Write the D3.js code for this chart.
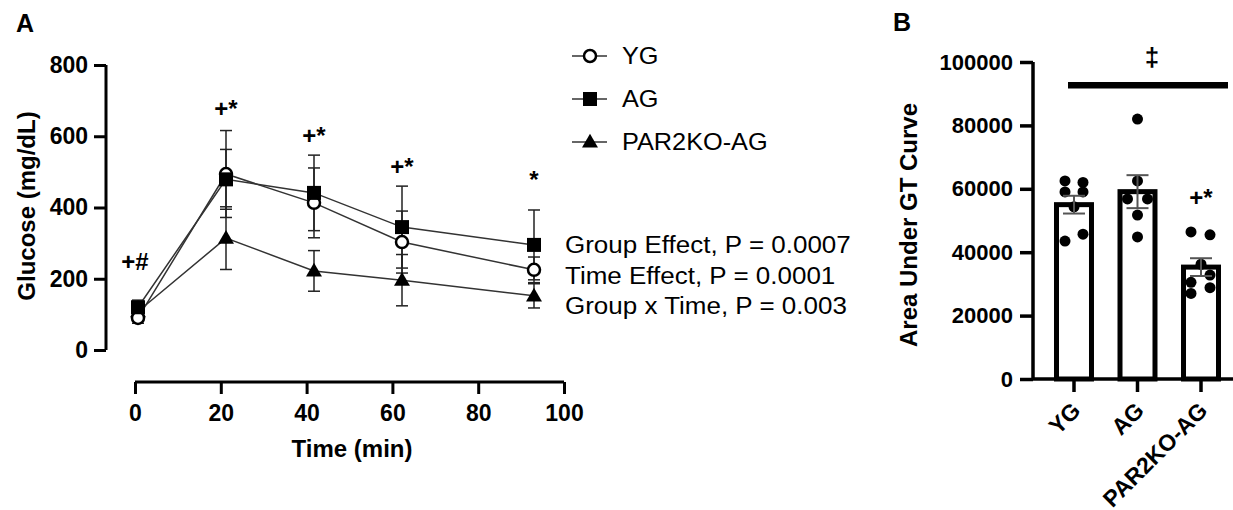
<!DOCTYPE html>
<html>
<head>
<meta charset="utf-8">
<script src="https://cdnjs.cloudflare.com/ajax/libs/d3/7.8.5/d3.min.js"></script>
<style>
  body { margin: 0; background: #fff; }
  svg { display: block; font-family: "Liberation Sans", Arial, sans-serif; }
  .axis path, .axis line { stroke: #000; }
  .axis text { font-weight: bold; fill: #000; }
</style>
</head>
<body>
<div id="viz"></div>
<script>
// ---- panel A: glucose tolerance curve ----
var times = [0, 20, 40, 60, 90];
var groups = ["YG", "AG", "PAR2KO-AG"];
var ygMean = [90, 494, 413, 303, 225];
var ygSD = [15, 122, 98, 87, 36];
var agMean = [120, 479, 441, 345, 295];
var agSD = [20, 84, 106, 115, 98];
var koMean = [108, 314, 222, 196, 152];
var koSD = [18, 88, 57, 72, 34];
var sigLabels = ["+#", "+*", "+*", "+*", "*"];
var sigHeight = [247, 679, 603, 514, 478];
var glucoseTicks = [0, 200, 400, 600, 800];
var timeTicks = [0, 20, 40, 60, 80, 100];
var statsText = ["Group Effect, P = 0.0007",
                 "Time Effect, P = 0.0001",
                 "Group x Time, P = 0.003"];

// ---- panel B: area under curve ----
var aucMean = [55000, 59100, 35300];
var aucSEM = [2800, 5200, 2800];
var ygDots = [62500, 62000, 59000, 59000, 54300, 45700, 43500];
var agDots = [82000, 62500, 56800, 56800, 51700, 44800];
var koDots = [46400, 45500, 36200, 32800, 30500, 28800, 27000];
var aucTicks = [0, 20000, 40000, 60000, 80000, 100000];

var width = 1233, height = 510;

var svg = d3.select("div#viz")
            .append("svg")
            .attr("width", width)
            .attr("height", height);

// panel letters
svg.append("text").attr("x", 16).attr("y", 32)
   .style("font-size", "25px").style("font-weight", "bold").text("A");
svg.append("text").attr("x", 893).attr("y", 31)
   .style("font-size", "25px").style("font-weight", "bold").text("B");

// scales for A
var yA = d3.scaleLinear().domain([0, 800]).range([350, 65]);
var xAxisA = d3.scaleLinear().domain([0, 100]).range([135, 564]);
// prism offsets the x axis, the data area is a little wider than the drawn axis
var xA = d3.scaleLinear().domain([0, 100]).range([138, 578]);

var gA = svg.append("g");

gA.append("g")
  .attr("class", "axis")
  .attr("transform", "translate(106,0)")
  .call(d3.axisLeft(yA).tickValues(glucoseTicks).tickSize(12).tickPadding(6))
  .call(function(g) {
      g.select(".domain").attr("stroke-width", 3).attr("d", "M0," + yA(0) + "V" + yA(800));
      g.selectAll(".tick line").attr("stroke-width", 3);
      g.selectAll(".tick text").style("font-size", "23px");
  });

gA.append("g")
  .attr("class", "axis")
  .attr("transform", "translate(0,382)")
  .call(d3.axisBottom(xAxisA).tickValues(timeTicks).tickSize(12).tickPadding(11))
  .call(function(g) {
      g.select(".domain").attr("stroke-width", 3).attr("d", "M" + xAxisA(0) + ",0H" + xAxisA(100));
      g.selectAll(".tick line").attr("stroke-width", 3);
      g.selectAll(".tick text").style("font-size", "23px");
  });

gA.append("text")
  .attr("x", 352).attr("y", 457)
  .style("text-anchor", "middle").style("font-size", "24px").style("font-weight", "bold")
  .text("Time (min)");

gA.append("text")
  .attr("transform", "translate(35,206) rotate(-90)")
  .style("text-anchor", "middle").style("font-size", "24px").style("font-weight", "bold")
  .text("Glucose (mg/dL)");

var seriesA = [
    {name: groups[0], mean: ygMean, sd: ygSD, shape: "circle"},
    {name: groups[1], mean: agMean, sd: agSD, shape: "square"},
    {name: groups[2], mean: koMean, sd: koSD, shape: "triangle"}
];

function drawMarker(sel, shape, cx, cy) {
    if (shape === "circle") {
        sel.append("circle").attr("cx", cx).attr("cy", cy).attr("r", 6)
           .attr("fill", "#fff").attr("stroke", "#000").attr("stroke-width", 2.5);
    } else if (shape === "square") {
        sel.append("rect").attr("x", cx - 7).attr("y", cy - 7)
           .attr("width", 14).attr("height", 14).attr("fill", "#000");
    } else {
        sel.append("path")
           .attr("d", d3.symbol().type(d3.symbolTriangle).size(110)())
           .attr("transform", "translate(" + cx + "," + (cy + 1) + ")")
           .attr("fill", "#000");
    }
}

// error bars first
seriesA.forEach(function(s) {
    var eb = gA.append("g").attr("stroke", "#222").attr("stroke-width", 1.5);
    times.forEach(function(t, i) {
        var x = xA(t), lo = yA(s.mean[i] - s.sd[i]), hi = yA(s.mean[i] + s.sd[i]);
        eb.append("line").attr("x1", x).attr("x2", x).attr("y1", lo).attr("y2", hi);
        eb.append("line").attr("x1", x - 6).attr("x2", x + 6).attr("y1", lo).attr("y2", lo);
        eb.append("line").attr("x1", x - 6).attr("x2", x + 6).attr("y1", hi).attr("y2", hi);
    });
});

var line = d3.line()
             .x(function(d, i) { return xA(times[i]); })
             .y(function(d) { return yA(d); });

seriesA.forEach(function(s) {
    gA.append("path").datum(s.mean).attr("d", line)
      .attr("fill", "none").attr("stroke", "#333").attr("stroke-width", 1.5);
});

// markers, AG on top of YG like the prism export
[2, 0, 1].forEach(function(k) {
    var s = seriesA[k];
    times.forEach(function(t, i) { drawMarker(gA, s.shape, xA(t), yA(s.mean[i])); });
});

// significance marks
times.forEach(function(t, i) {
    gA.append("text")
      .attr("x", xA(t) - (i === 0 ? 3 : 0)).attr("y", yA(sigHeight[i]))
      .attr("dy", "0.35em")
      .style("text-anchor", "middle").style("font-size", "24px").style("font-weight", "bold")
      .text(sigLabels[i]);
});

// legend
var legend = gA.append("g");
groups.forEach(function(gname, i) {
    var ly = 56 + i * 43;
    legend.append("line").attr("x1", 572).attr("x2", 607).attr("y1", ly).attr("y2", ly)
          .attr("stroke", "#333").attr("stroke-width", 1.5);
    drawMarker(legend, seriesA[i].shape, 590, ly);
    legend.append("text")
          .attr("transform", "translate(622," + ly + ") scale(1.1,1)")
          .attr("dy", "0.36em")
          .style("font-size", "23px").text(gname);
});

statsText.forEach(function(txt, i) {
    gA.append("text")
      .attr("transform", "translate(565," + (253 + i * 30.5) + ") scale(1.13,1)")
      .style("font-size", "23px").text(txt);
});

// ---- panel B ----
var yB = d3.scaleLinear().domain([0, 100000]).range([379, 62]);
var xB = d3.scaleBand().domain(groups).range([1033, 1242]).paddingInner(0.449).paddingOuter(0.37);

var gB = svg.append("g");

gB.append("g")
  .attr("class", "axis")
  .attr("transform", "translate(1033,0)")
  .call(d3.axisLeft(yB).tickValues(aucTicks).tickSize(13).tickPadding(7).tickFormat(d3.format("d")))
  .call(function(g) {
      g.select(".domain").attr("stroke-width", 3.5).attr("d", "M0," + yB(0) + "V" + yB(100000));
      g.selectAll(".tick line").attr("stroke-width", 3.5);
      g.selectAll(".tick text").style("font-size", "22px");
  });

var aucDots = [ygDots, agDots, koDots];

gB.selectAll("rect.bar")
  .data(aucMean)
  .enter().append("rect")
  .attr("class", "bar")
  .attr("x", function(d, i) { return xB(groups[i]); })
  .attr("y", function(d) { return yB(d); })
  .attr("width", xB.bandwidth())
  .attr("height", function(d) { return yB(0) - yB(d); })
  .attr("fill", "#fff").attr("stroke", "#000").attr("stroke-width", 5);

// dots, paired ones spread left/right
aucDots.forEach(function(vals, i) {
    var cx = xB(groups[i]) + xB.bandwidth() / 2;
    var offs;
    if (i === 0) offs = [-9, 9, -9, 9, 0, 9, -9];
    else if (i === 1) offs = [0, 0, -10, 10, 0, 0];
    else offs = [-10, 9, 0, 9, -10, 9, -10];
    vals.forEach(function(v, j) {
        gB.append("circle").attr("cx", cx + offs[j]).attr("cy", yB(v)).attr("r", 5.5).attr("fill", "#000");
    });
});

// SEM bars
aucMean.forEach(function(m, i) {
    var cx = xB(groups[i]) + xB.bandwidth() / 2;
    var lo = yB(m - aucSEM[i]), hi = yB(m + aucSEM[i]);
    var eb = gB.append("g").attr("stroke", "#555").attr("stroke-width", 2);
    eb.append("line").attr("x1", cx).attr("x2", cx).attr("y1", lo).attr("y2", hi);
    eb.append("line").attr("x1", cx - 11).attr("x2", cx + 11).attr("y1", lo).attr("y2", lo);
    eb.append("line").attr("x1", cx - 11).attr("x2", cx + 11).attr("y1", hi).attr("y2", hi);
});

gB.append("g")
  .attr("class", "axis")
  .attr("transform", "translate(0," + yB(0) + ")")
  .call(d3.axisBottom(xB).tickSize(13))
  .call(function(g) {
      g.select(".domain").attr("stroke-width", 3.5).attr("d", "M1033,0H1233");
      g.selectAll(".tick line").attr("stroke-width", 3.5);
      g.selectAll(".tick text")
       .style("font-size", "23px")
       .style("text-anchor", "end")
       .attr("x", 0).attr("y", 0).attr("dy", 0)
       .attr("transform", "translate(8,33) rotate(-45)");
  });

gB.append("text")
  .attr("transform", "translate(917,225) rotate(-90)")
  .style("text-anchor", "middle").style("font-size", "24px").style("font-weight", "bold")
  .text("Area Under GT Curve");

// significance line and marks
gB.append("line").attr("x1", 1068).attr("x2", 1228).attr("y1", yB(92700)).attr("y2", yB(92700))
  .attr("stroke", "#000").attr("stroke-width", 6.5);
gB.append("text").attr("x", 1152).attr("y", 66)
  .style("text-anchor", "middle").style("font-size", "26px").style("font-weight", "bold").text("\u2021");
gB.append("text").attr("x", xB(groups[2]) + xB.bandwidth() / 2).attr("y", 198).attr("dy", "0.35em")
  .style("text-anchor", "middle").style("font-size", "24px").style("font-weight", "bold").text("+*");
</script>
</body>
</html>
